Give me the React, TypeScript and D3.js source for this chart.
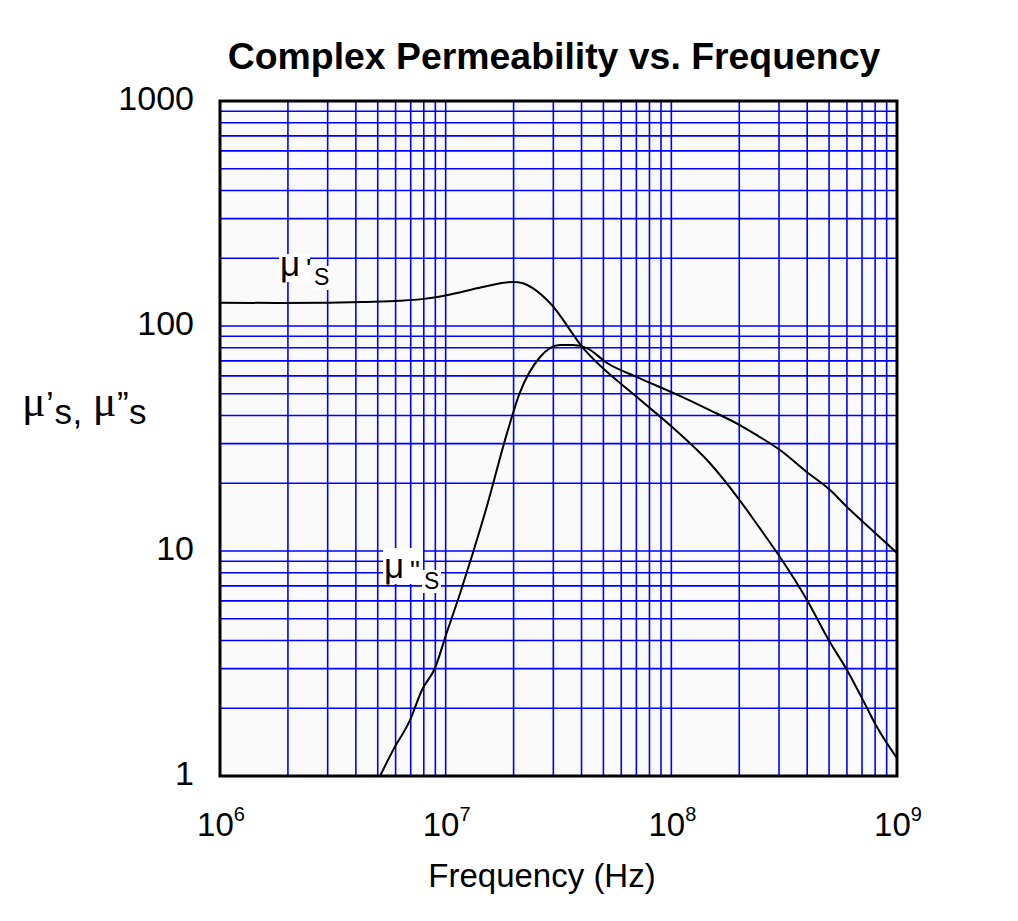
import React from 'react';
import * as d3 from 'd3';

// μ's curve (frequency in Hz, permeability)
const muPrimeFreq = [1e6, 1.8e6, 3e6, 4.3e6, 6.3e6, 8e6, 1.01e7, 1.46e7, 1.99e7, 2.2e7, 2.44e7, 2.9e7, 4.06e7, 7.04e7, 1.02e8, 1.48e8, 2.01e8, 2.47e8, 3.03e8, 3.99e8, 5.04e8, 6.0e8, 7.06e8, 8.15e8, 1e9];
const muPrimeVal = [127, 126.5, 127, 128, 129.5, 132, 137, 149, 157, 155, 147, 126.5, 80, 48.3, 35.2, 24.6, 16.8, 12.6, 9.4, 6.06, 3.94, 2.96, 2.18, 1.65, 1.2];

// μ"s curve
const muDoubleFreq = [5.12e6, 5.84e6, 6.95e6, 7.85e6, 8.97e6, 1.01e7, 1.16e7, 1.32e7, 1.52e7, 1.87e7, 2.13e7, 2.62e7, 3.21e7, 3.66e7, 4.23e7, 5.19e7, 7.04e7, 1.02e8, 1.48e8, 2.01e8, 2.47e8, 3.03e8, 3.99e8, 5.04e8, 6.0e8, 7.06e8, 1e9];
const muDoubleVal = [1, 1.3, 1.77, 2.41, 3.02, 4.32, 6.51, 9.8, 15.7, 33.4, 50.4, 72.8, 82.4, 82.4, 79.8, 68.5, 59.3, 50.4, 42.3, 36.3, 32.1, 28.1, 22.4, 18.7, 15.7, 13.5, 9.8];

const xTicks = [1e6, 1e7, 1e8, 1e9];
const xTickExp = ['6', '7', '8', '9'];
const yTicks = [1, 10, 100, 1000];
const yTickLabels = ['1', '10', '100', '1000'];

const W = 1018;
const H = 921;
const left = 220, right = 897, top = 101, bottom = 776;
const font = '"Liberation Sans", Arial, sans-serif';
const serif = '"Liberation Serif", "Times New Roman", serif';

const App: React.FC = () => {
  const x = d3.scaleLog().domain([1e6, 1e9]).range([left, right]);
  const y = d3.scaleLog().domain([1, 1000]).range([bottom, top]);

  const grid = (lo: number, hi: number) => {
    const out: number[] = [];
    for (let k = lo; k < hi; k++) {
      for (let d = 1; d <= 9; d++) {
        if (d === 1 && k === lo) continue;
        out.push(d * Math.pow(10, k));
      }
    }
    return out;
  };
  const xGrid = grid(6, 9);
  const yGrid = grid(0, 3);

  const line = d3.line<[number, number]>()
    .x(d => x(d[0]))
    .y(d => y(d[1]))
    .curve(d3.curveMonotoneX);

  const primePts = muPrimeFreq.map((f, i) => [f, muPrimeVal[i]] as [number, number]);
  const doublePts = muDoubleFreq.map((f, i) => [f, muDoubleVal[i]] as [number, number]);

  return (
    <svg width={W} height={H} style={{ position: 'absolute', left: 0, top: 0, background: '#fff' }} fontFamily={font}>
      <defs>
        <clipPath id="plot">
          <rect x={left} y={top} width={right - left} height={bottom - top} />
        </clipPath>
      </defs>

      <text x={554} y={69} textAnchor="middle" fontSize={37.4} fontWeight="bold">
        Complex Permeability vs. Frequency
      </text>

      <rect x={left} y={top} width={right - left} height={bottom - top} fill="#fafafa" />

      {xGrid.map(v => (
        <line key={'gx' + v} x1={x(v)} x2={x(v)} y1={top} y2={bottom} stroke="#0000ff" strokeWidth={1.6} />
      ))}
      {yGrid.map(v => (
        <line key={'gy' + v} x1={left} x2={right} y1={y(v)} y2={y(v)} stroke="#0000ff" strokeWidth={1.6} />
      ))}

      {/* curve labels */}
      <g>
        <rect x={279} y={254} width={31} height={28} fill="#fff" />
        <rect x={312} y={266} width={18} height={24} fill="#fff" />
        <text x={280} y={276} fontSize={35}>μ</text>
        <text x={306} y={278} fontSize={28}>'</text>
        <text x={314} y={285} fontSize={23}>S</text>

        <rect x={383} y={548} width={40} height={36} fill="#fff" />
        <rect x={422} y={570} width={19} height={23} fill="#fff" />
        <text x={384} y={578} fontSize={35}>μ</text>
        <text x={410} y={580} fontSize={28}>"</text>
        <text x={424} y={589} fontSize={23}>S</text>
      </g>

      <g clipPath="url(#plot)" fill="none" stroke="#000" strokeWidth={2}>
        <path d={line(primePts) || ''} />
        <path d={line(doublePts) || ''} />
      </g>

      <rect x={left} y={top} width={right - left} height={bottom - top} fill="none" stroke="#000" strokeWidth={3} />

      {yTicks.map((v, i) => (
        <text key={'yt' + v} x={194} y={y(v) + 9} textAnchor="end" fontSize={34}>
          {yTickLabels[i]}
        </text>
      ))}

      {xTicks.map((v, i) => (
        <text key={'xt' + v} x={x(v) + 1} y={836} textAnchor="middle" fontSize={33}>
          10<tspan fontSize={20} dy={-15}>{xTickExp[i]}</tspan>
        </text>
      ))}

      <text x={542} y={887} textAnchor="middle" fontSize={33}>Frequency (Hz)</text>

      <text x={22} y={416} fontSize={35} letterSpacing={0.5}>
        <tspan fontFamily={serif} fontSize={44}>μ</tspan>
        <tspan>’</tspan>
        <tspan dy={8}>s, </tspan>
        <tspan dy={-8} fontFamily={serif} fontSize={44}>μ</tspan>
        <tspan>”</tspan>
        <tspan dy={8}>s</tspan>
      </text>
    </svg>
  );
};

export default App;
